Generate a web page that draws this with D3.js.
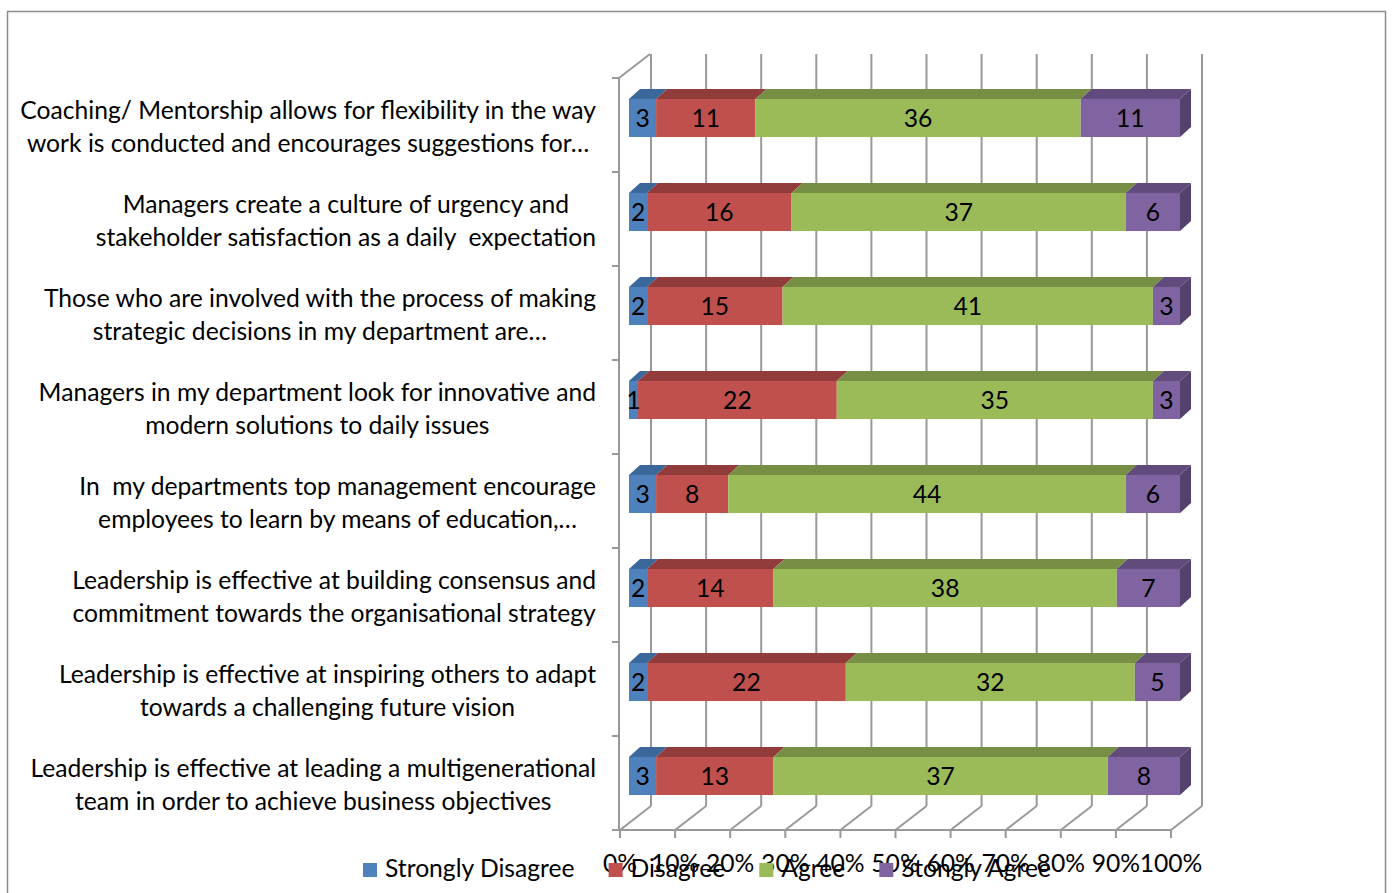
<!DOCTYPE html>
<html>
<head>
<meta charset="utf-8">
<script src="https://cdn.jsdelivr.net/npm/d3@7"></script>
<style>
  html, body { margin: 0; padding: 0; background: #fff; }
  svg { display: block; }
  text { white-space: pre; }
</style>
</head>
<body>
<svg id="chart" width="1392" height="893"></svg>
<script>
// ---------------- DATA ----------------
const categories = [
  "Coaching/ Mentorship allows for flexibility in the way\nwork is conducted and encourages suggestions for…",
  "Managers create a culture of urgency and\nstakeholder satisfaction as a daily  expectation",
  "Those who are involved with the process of making\nstrategic decisions in my department are…",
  "Managers in my department look for innovative and\nmodern solutions to daily issues",
  "In  my departments top management encourage\nemployees to learn by means of education,…",
  "Leadership is effective at building consensus and\ncommitment towards the organisational strategy",
  "Leadership is effective at inspiring others to adapt\ntowards a challenging future vision",
  "Leadership is effective at leading a multigenerational\nteam in order to achieve business objectives"
];
const stronglyDisagree = [3, 2, 2, 1, 3, 2, 2, 3];
const disagree         = [11, 16, 15, 22, 8, 14, 22, 13];
const agree            = [36, 37, 41, 35, 44, 38, 32, 37];
const stronglyAgree    = [11, 6, 3, 3, 6, 7, 5, 8];
const seriesNames = ["Strongly Disagree", "Disagree", "Agree", "Stongly Agree"];
const tickValues = [0, 0.1, 0.2, 0.3, 0.4, 0.5, 0.6, 0.7, 0.8, 0.9, 1.0];
const tickLabels = ["0%", "10%", "20%", "30%", "40%", "50%", "60%", "70%", "80%", "90%", "100%"];

// ---------------- STYLE ----------------
const frontColors = ["#4f81bd", "#c0504d", "#9bbb59", "#8064a2"];
const topColors   = ["#3c679b", "#913c3a", "#778f45", "#614b7c"];
const sideColors  = ["#33587f", "#7a3230", "#63773a", "#54416d"];
const gridColor = "#999999";
const FONT = "Lato, 'Open Sans', sans-serif";

const svg = d3.select("#chart");

// fit the font size to the reference text width
const probe = svg.append("text").attr("font-family", FONT).attr("font-size", 100)
  .text("Coaching/ Mentorship allows for flexibility in the way");
const fs = 100 * 576 / probe.node().getComputedTextLength();
probe.remove();

// Outer frame
svg.append("rect").attr("x", 7.5).attr("y", 11.5).attr("width", 1378).attr("height", 900)
  .attr("fill", "none").attr("stroke", "#8c8c8c").attr("stroke-width", 1.5);

// ---------------- SCALES ----------------
const x = d3.scaleLinear().domain([0, 1]).range([620, 1171]);
const y = d3.scaleBand().domain(categories).range([78, 830]).padding(0);
const wallD = { dx: 31, dy: -24 };      // depth of the plot box
const barOff = { dx: 9, dy: -7 };        // bar front face offset into depth
const barD = { dx: 11, dy: -10 };        // bar depth
const barH = y.bandwidth() * 0.405;

const rows = categories.map((c, i) => {
  const vals = [stronglyDisagree[i], disagree[i], agree[i], stronglyAgree[i]];
  const total = d3.sum(vals);
  let cum = 0;
  const segs = vals.map((v, k) => {
    const s = { k, v, p0: cum / total, p1: (cum + v) / total };
    cum += v;
    return s;
  });
  return { c, i, segs };
});

// ---------------- WALLS / GRID ----------------
const grid = svg.append("g").attr("stroke", gridColor).attr("stroke-width", 2).attr("fill", "none");
const yTop = y.range()[0], yBot = y.range()[1];
grid.selectAll(".bg").data(tickValues).join("line")
  .attr("x1", d => x(d) + wallD.dx).attr("x2", d => x(d) + wallD.dx)
  .attr("y1", yTop + wallD.dy).attr("y2", yBot + wallD.dy);
grid.selectAll(".fl").data(tickValues).join("line")
  .attr("x1", d => x(d)).attr("x2", d => x(d) + wallD.dx)
  .attr("y1", yBot).attr("y2", yBot + wallD.dy);
grid.append("line").attr("x1", x(0)).attr("x2", x(1)).attr("y1", yBot).attr("y2", yBot);
grid.selectAll(".tk").data(tickValues).join("line")
  .attr("x1", d => x(d)).attr("x2", d => x(d)).attr("y1", yBot).attr("y2", yBot + 8);
grid.append("line").attr("x1", x(0) - 1).attr("x2", x(0) - 1).attr("y1", yTop).attr("y2", yBot);
grid.append("line").attr("x1", x(0) - 1).attr("x2", x(0) - 1 + wallD.dx).attr("y1", yTop).attr("y2", yTop + wallD.dy);
const bounds = categories.map(c => y(c)).concat([yBot]);
grid.selectAll(".yt").data(bounds).join("line")
  .attr("x1", x(0) - 8).attr("x2", x(0) - 1).attr("y1", d => d).attr("y2", d => d);

// ---------------- BARS ----------------
const bx = p => x(p) + barOff.dx;
const barG = svg.append("g");
rows.forEach(r => {
  const yt = y(r.c) + y.bandwidth() / 2 + barOff.dy - barH / 2;
  const yb = yt + barH;
  const g = barG.append("g");
  r.segs.forEach(s => {
    const x0 = bx(s.p0), x1 = bx(s.p1);
    g.append("polygon")
      .attr("points", [[x0, yt], [x1, yt], [x1 + barD.dx, yt + barD.dy], [x0 + barD.dx, yt + barD.dy]].join(" "))
      .attr("fill", topColors[s.k]);
    g.append("rect").attr("x", x0).attr("y", yt).attr("width", x1 - x0).attr("height", barH)
      .attr("fill", frontColors[s.k]);
  });
  const last = r.segs[r.segs.length - 1];
  const xe = bx(last.p1);
  g.append("polygon")
    .attr("points", [[xe, yt], [xe + barD.dx, yt + barD.dy], [xe + barD.dx, yb + barD.dy], [xe, yb]].join(" "))
    .attr("fill", sideColors[last.k]);
  r.segs.forEach(s => {
    g.append("text")
      .attr("x", (bx(s.p0) + bx(s.p1)) / 2)
      .attr("y", (yt + yb) / 2 + fs * 0.36)
      .attr("text-anchor", "middle")
      .attr("font-family", FONT).attr("font-size", fs).attr("fill", "#000")
      .text(s.v);
  });
});

// ---------------- CATEGORY LABELS ----------------
const lineH = 33;
const labelRight = 596;
categories.forEach(c => {
  const lines = c.split("\n");
  const cy = y(c) + y.bandwidth() / 2 + 2;
  const g = svg.append("g");
  const texts = lines.map((ln, j) => g.append("text")
    .attr("font-family", FONT).attr("font-size", fs).attr("fill", "#000")
    .attr("text-anchor", "middle")
    .attr("y", cy + (j - (lines.length - 1) / 2) * lineH + fs * 0.36)
    .text(ln));
  const maxW = d3.max(texts, t => t.node().getComputedTextLength());
  texts.forEach(t => t.attr("x", labelRight - maxW / 2));
});

// ---------------- X TICK LABELS ----------------
svg.append("g").selectAll("text").data(tickValues).join("text")
  .attr("x", d => x(d)).attr("y", 872)
  .attr("text-anchor", "middle")
  .attr("font-family", FONT).attr("font-size", fs).attr("fill", "#000")
  .text((d, i) => tickLabels[i]);

// ---------------- LEGEND ----------------
const leg = svg.append("g");
let lx = 0;
seriesNames.forEach((n, k) => {
  const g = leg.append("g");
  g.append("rect").attr("x", 0).attr("y", -14).attr("width", 14).attr("height", 14).attr("fill", frontColors[k]);
  const t = g.append("text").attr("x", 22).attr("y", 0)
    .attr("font-family", FONT).attr("font-size", fs).attr("fill", "#000").text(n);
  const w = 22 + t.node().getComputedTextLength();
  g.attr("transform", `translate(${lx},0)`);
  lx += w + 34;
});
const legW = lx - 34;
leg.attr("transform", `translate(${363},877)`);
</script>
</body>
</html>
